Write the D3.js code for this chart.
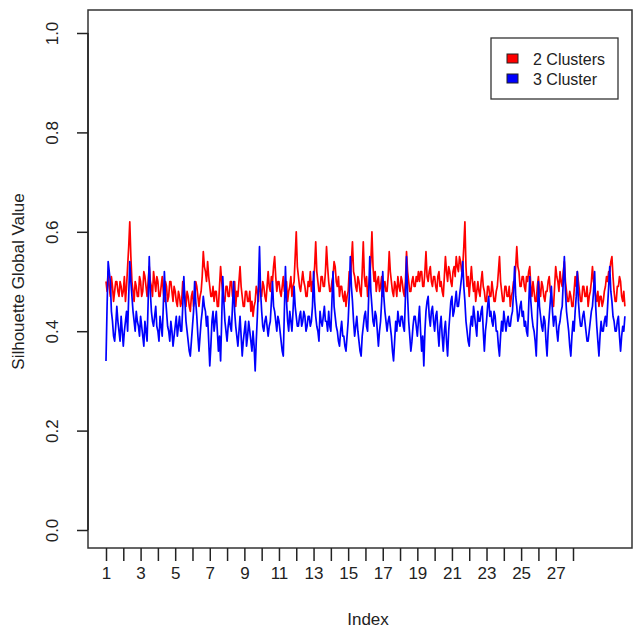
<!DOCTYPE html>
<html>
<head>
<meta charset="utf-8">
<script src="https://cdn.jsdelivr.net/npm/d3@7"></script>
<style>
  html, body { margin: 0; padding: 0; background: #fff; }
  svg { display: block; font-family: "Liberation Sans", Arial, Helvetica, sans-serif; }
</style>
</head>
<body>
<svg id="chart" width="643" height="629"></svg>
<script>
// Global silhouette value per run, 2-cluster solution
const twoClusters = [
  0.50,0.48,0.52,0.49,0.47,0.51,0.49,0.46,0.48,0.50,0.50,0.48,0.47,0.50,0.49,0.47,
  0.48,0.51,0.46,0.49,0.53,0.57,0.62,0.55,0.50,0.48,0.46,0.50,0.49,0.47,0.47,0.51,
  0.50,0.47,0.48,0.52,0.51,0.49,0.47,0.50,0.53,0.50,0.49,0.47,0.52,0.50,0.48,0.51,
  0.50,0.47,0.47,0.49,0.51,0.48,0.46,0.50,0.49,0.46,0.47,0.50,0.50,0.48,0.46,0.49,
  0.48,0.46,0.45,0.48,0.47,0.45,0.46,0.50,0.49,0.47,0.45,0.48,0.47,0.45,0.44,0.47,
  0.48,0.45,0.46,0.50,0.49,0.47,0.45,0.47,0.48,0.51,0.56,0.53,0.52,0.50,
  0.54,0.51,0.49,0.47,0.47,0.49,0.46,0.48,0.48,0.45,0.45,0.49,0.53,0.50,0.48,0.46,
  0.46,0.49,0.49,0.47,0.47,0.50,0.50,0.47,0.48,0.50,0.45,0.48,0.47,0.50,0.53,0.49,
  0.47,0.45,0.45,0.48,0.48,0.46,0.46,0.48,0.44,0.46,0.43,0.45,0.46,0.49,0.48,0.46,
  0.50,0.48,0.47,0.50,0.49,0.47,0.46,0.49,0.52,0.49,0.48,0.51,0.50,0.53,0.55,0.51,
  0.48,0.50,0.50,0.48,0.47,0.49,0.51,0.48,0.48,0.50,0.46,0.48,0.49,0.51,0.47,0.49,
  0.50,0.55,0.60,0.53,0.51,0.49,0.48,0.50,0.52,0.50,0.49,0.47,0.47,0.50,0.49,0.52,
  0.48,0.50,
  0.50,0.53,0.58,0.52,0.50,0.48,0.48,0.51,0.51,0.49,0.49,0.52,0.57,0.53,0.50,0.48,
  0.48,0.50,0.51,0.54,0.53,0.50,0.49,0.51,0.47,0.49,0.49,0.47,0.46,0.48,0.45,0.47,
  0.48,0.52,0.50,0.54,0.58,0.52,0.51,0.49,0.48,0.51,0.50,0.48,0.47,0.52,0.58,0.51,
  0.49,0.51,0.47,0.49,0.51,0.54,0.60,0.53,0.50,0.52,0.48,0.50,0.51,0.48,0.49,0.51,
  0.47,0.49,0.50,0.48,0.48,0.51,0.56,0.52,0.50,0.48,0.47,0.50,0.49,0.47,0.51,0.49,
  0.48,0.51,0.50,0.48,0.47,0.50,0.56,0.52,0.50,0.48,0.48,0.50,0.51,0.49,0.49,0.51,
  0.50,0.52,
  0.50,0.52,0.52,0.49,0.49,0.52,0.56,0.51,0.50,0.52,0.53,0.50,0.49,0.51,0.51,0.49,
  0.48,0.51,0.52,0.49,0.50,0.48,0.47,0.51,0.55,0.52,0.50,0.53,0.52,0.50,0.49,0.52,
  0.53,0.51,0.55,0.53,0.52,0.55,0.54,0.52,0.53,0.57,0.62,0.53,0.49,0.51,0.47,0.50,
  0.53,0.50,0.48,0.50,0.46,0.48,0.50,0.48,0.47,0.50,0.52,0.49,0.48,0.46,0.46,0.49,
  0.49,0.47,0.47,0.50,0.48,0.46,0.46,0.48,0.49,0.52,0.55,0.50,0.48,0.46,0.46,0.49,
  0.49,0.47,0.47,0.49,0.45,0.47,0.48,0.50,0.50,0.53,0.57,0.53,0.52,0.49,0.49,0.51,
  0.51,0.49,
  0.48,0.51,0.50,0.52,0.53,0.49,0.47,0.50,0.48,0.46,0.46,0.49,0.51,0.48,0.47,0.50,
  0.49,0.47,0.46,0.48,0.48,0.50,0.51,0.48,0.47,0.45,0.45,0.49,0.53,0.51,0.50,0.48,
  0.52,0.50,0.49,0.52,0.54,0.50,0.48,0.46,0.46,0.48,0.47,0.45,0.45,0.48,0.51,0.49,
  0.52,0.50,0.48,0.46,0.46,0.49,0.49,0.47,0.47,0.49,0.45,0.47,0.48,0.50,0.53,0.50,
  0.49,0.47,0.46,0.48,0.45,0.47,0.47,0.45,0.46,0.48,0.49,0.51,0.50,0.52,0.52,0.54,
  0.55,0.51,0.48,0.46,0.46,0.49,0.49,0.51,0.50,0.47,0.46,0.48,0.45
];

// Global silhouette value per run, 3-cluster solution
const threeCluster = [
  0.34,0.45,0.54,0.52,0.50,0.44,0.42,0.39,0.38,0.41,0.45,0.42,0.40,0.38,0.43,0.40,
  0.37,0.40,0.42,0.44,0.40,0.47,0.54,0.50,0.47,0.44,0.42,0.40,0.44,0.42,0.41,0.39,
  0.43,0.41,0.39,0.37,0.42,0.40,0.38,0.46,0.55,0.48,0.44,0.42,0.41,0.43,0.45,0.41,
  0.40,0.38,0.43,0.41,0.39,0.45,0.52,0.47,0.44,0.41,0.40,0.38,0.42,0.40,0.37,0.39,
  0.41,0.43,0.39,0.41,0.43,0.40,0.40,0.45,0.51,0.46,0.42,0.40,0.38,0.36,0.35,0.38,
  0.41,0.44,0.50,0.46,0.43,0.39,0.36,0.39,0.42,0.44,0.47,0.45,0.44,0.41,
  0.43,0.38,0.33,0.37,0.42,0.44,0.40,0.42,0.44,0.40,0.36,0.39,0.34,0.42,0.51,0.46,
  0.42,0.40,0.38,0.41,0.43,0.41,0.40,0.45,0.50,0.44,0.41,0.39,0.37,0.40,0.43,0.39,
  0.35,0.38,0.40,0.42,0.37,0.39,0.42,0.40,0.38,0.36,0.40,0.37,0.32,0.38,0.43,0.49,
  0.57,0.48,0.44,0.41,0.40,0.42,0.43,0.41,0.39,0.41,0.42,0.46,0.50,0.45,0.44,0.42,
  0.40,0.43,0.42,0.40,0.38,0.36,0.35,0.44,0.53,0.46,0.42,0.40,0.44,0.42,0.40,0.44,
  0.49,0.45,0.43,0.41,0.41,0.43,0.44,0.41,0.42,0.44,0.43,0.40,0.41,0.43,0.43,0.41,
  0.42,0.45,
  0.52,0.46,0.43,0.41,0.40,0.38,0.44,0.42,0.41,0.43,0.45,0.42,0.42,0.40,0.44,0.41,
  0.40,0.46,0.52,0.45,0.43,0.41,0.40,0.38,0.37,0.40,0.42,0.39,0.39,0.37,0.36,0.39,
  0.42,0.47,0.55,0.49,0.46,0.42,0.39,0.41,0.43,0.40,0.38,0.36,0.35,0.39,0.41,0.43,
  0.44,0.41,0.40,0.47,0.55,0.48,0.45,0.42,0.41,0.44,0.43,0.40,0.37,0.40,0.42,0.46,
  0.52,0.47,0.44,0.42,0.40,0.42,0.43,0.41,0.39,0.36,0.34,0.38,0.42,0.40,0.44,0.42,
  0.41,0.43,0.43,0.41,0.40,0.47,0.55,0.47,0.42,0.39,0.36,0.38,0.41,0.43,0.43,0.41,
  0.39,0.42,
  0.45,0.40,0.36,0.39,0.33,0.40,0.44,0.46,0.47,0.43,0.41,0.44,0.45,0.42,0.40,0.43,
  0.44,0.40,0.37,0.41,0.43,0.39,0.36,0.40,0.42,0.38,0.35,0.40,0.43,0.46,0.47,0.43,
  0.44,0.46,0.48,0.45,0.45,0.47,0.49,0.51,0.54,0.49,0.46,0.42,0.40,0.38,0.37,0.41,
  0.43,0.41,0.45,0.43,0.41,0.39,0.44,0.42,0.42,0.44,0.45,0.40,0.36,0.40,0.42,0.45,
  0.47,0.43,0.44,0.42,0.41,0.44,0.43,0.40,0.40,0.37,0.35,0.39,0.42,0.40,0.44,0.42,
  0.40,0.42,0.43,0.41,0.41,0.43,0.44,0.48,0.53,0.47,0.45,0.42,0.43,0.45,0.46,0.43,
  0.44,0.41,
  0.42,0.40,0.39,0.45,0.51,0.46,0.43,0.41,0.40,0.38,0.35,0.42,0.50,0.45,0.43,0.41,
  0.40,0.43,0.42,0.38,0.35,0.40,0.43,0.46,0.49,0.44,0.41,0.43,0.43,0.40,0.38,0.41,
  0.42,0.44,0.45,0.50,0.55,0.48,0.44,0.42,0.40,0.37,0.35,0.39,0.42,0.40,0.44,0.47,
  0.52,0.46,0.43,0.41,0.41,0.43,0.44,0.42,0.40,0.38,0.38,0.40,0.42,0.44,0.45,0.48,
  0.52,0.45,0.41,0.38,0.35,0.39,0.42,0.40,0.40,0.42,0.43,0.41,0.45,0.49,0.53,0.48,
  0.46,0.43,0.42,0.40,0.40,0.42,0.43,0.39,0.36,0.39,0.41,0.40,0.43
];

// Index axis: one tick per block of runs
const tickNumbers = [1,2,3,4,5,6,7,8,9,10,11,12,13,14,15,16,17,18,19,20,21,22,23,24,25,26,27,28];
const runsPerTick = 16;
const yTicks = [0.0, 0.2, 0.4, 0.6, 0.8, 1.0];

const seriesInfo = [
  { name: "2 Clusters", values: twoClusters, color: "#ff0000" },
  { name: "3 Cluster",  values: threeCluster, color: "#0000ff" }
];

const svg = d3.select("#chart");
const ink = "#222";

// plot frame
const frame = { left: 88, top: 10, right: 632, bottom: 548 };

const x = d3.scaleLinear()
  .domain([0, (tickNumbers.length - 1) * runsPerTick])
  .range([106, 573]);
const y = d3.scaleLinear().domain([0, 1]).range([530, 33]);

// series lines
const line = d3.line()
  .x((d, i) => x(i))
  .y(d => y(d));

seriesInfo.forEach(s => {
  svg.append("path")
    .datum(s.values)
    .attr("fill", "none")
    .attr("stroke", s.color)
    .attr("stroke-width", 1.7)
    .attr("stroke-linejoin", "round")
    .attr("d", line);
});

// box around plot region
svg.append("rect")
  .attr("x", frame.left).attr("y", frame.top)
  .attr("width", frame.right - frame.left)
  .attr("height", frame.bottom - frame.top)
  .attr("fill", "none")
  .attr("stroke", "#333")
  .attr("stroke-width", 1.5);

// x axis
const xAxis = d3.axisBottom(x)
  .tickValues(tickNumbers.map(t => (t - 1) * runsPerTick))
  .tickSize(13)
  .tickPadding(6)
  .tickFormat((d, i) => tickNumbers[i] % 2 === 1 ? tickNumbers[i] : "");

const gx = svg.append("g")
  .attr("transform", `translate(0,${frame.bottom})`)
  .call(xAxis);
gx.select(".domain").remove();
gx.selectAll(".tick line").attr("stroke", ink).attr("stroke-width", 1.5);
gx.selectAll(".tick text")
  .attr("fill", ink)
  .attr("font-size", 17)
  .attr("font-family", "Liberation Sans, Arial, sans-serif");

// y axis with vertical labels
const yAxis = d3.axisLeft(y)
  .tickValues(yTicks)
  .tickSize(11)
  .tickFormat(d3.format(".1f"));

const gy = svg.append("g")
  .attr("transform", `translate(${frame.left},0)`)
  .call(yAxis);
gy.select(".domain").attr("stroke", ink).attr("stroke-width", 1.5)
  .attr("d", `M0,${y(0)}V${y(1)}`);
gy.selectAll(".tick line").attr("stroke", ink).attr("stroke-width", 1.5);
gy.selectAll(".tick text")
  .attr("fill", ink)
  .attr("font-size", 17)
  .attr("font-family", "Liberation Sans, Arial, sans-serif")
  .attr("transform", "rotate(-90)")
  .attr("x", 0)
  .attr("y", -36)
  .attr("dy", "0.35em")
  .attr("text-anchor", "middle");

// axis titles
svg.append("text")
  .attr("x", 368).attr("y", 625)
  .attr("text-anchor", "middle")
  .attr("fill", ink)
  .attr("font-size", 17)
  .text("Index");

svg.append("text")
  .attr("transform", `translate(24,${(y(0) + y(1)) / 2}) rotate(-90)`)
  .attr("text-anchor", "middle")
  .attr("fill", ink)
  .attr("font-size", 17)
  .text("Silhouette Global Value");

// legend
const legend = svg.append("g").attr("transform", "translate(491,38)");
legend.append("rect")
  .attr("width", 127).attr("height", 61)
  .attr("fill", "#fff")
  .attr("stroke", "#333")
  .attr("stroke-width", 1.3);

seriesInfo.forEach((s, i) => {
  const row = legend.append("g").attr("transform", `translate(0,${21 + i * 20})`);
  row.append("rect")
    .attr("x", 16).attr("y", -5)
    .attr("width", 11).attr("height", 9)
    .attr("fill", s.color)
    .attr("stroke", "#222")
    .attr("stroke-width", 1);
  row.append("text")
    .attr("x", 42).attr("y", 0)
    .attr("dy", "0.35em")
    .attr("fill", ink)
    .attr("font-size", 16)
    .text(s.name);
});
</script>
</body>
</html>
